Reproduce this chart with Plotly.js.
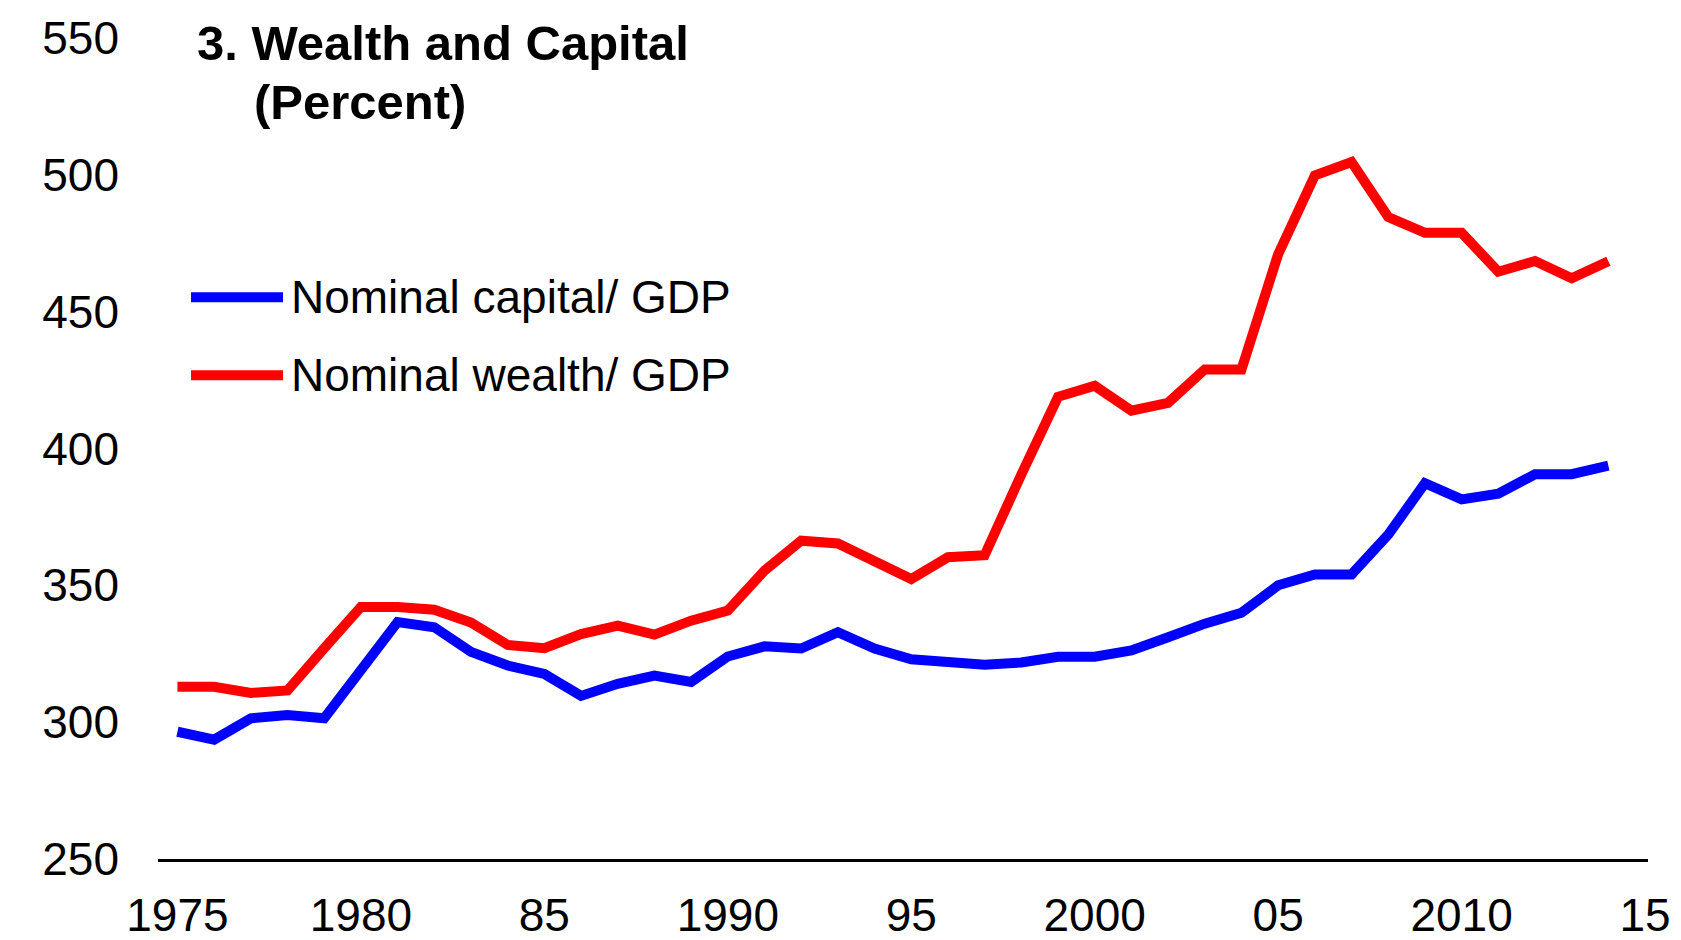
<!DOCTYPE html>
<html>
<head>
<meta charset="utf-8">
<script src="https://cdn.plot.ly/plotly-3.0.1.min.js"></script>
<style>
  html, body { margin: 0; padding: 0; background: #fff; }
  #chart { width: 1681px; height: 940px; }
</style>
</head>
<body>
<div id="chart"></div>
<script>
// ---- Data ----
var years = [1975, 1976, 1977, 1978, 1979, 1980, 1981, 1982, 1983, 1984,
             1985, 1986, 1987, 1988, 1989, 1990, 1991, 1992, 1993, 1994,
             1995, 1996, 1997, 1998, 1999, 2000, 2001, 2002, 2003, 2004,
             2005, 2006, 2007, 2008, 2009, 2010, 2011, 2012, 2013, 2014];

var capitalToGDP = [296.5, 293.6, 301.4, 302.6, 301.4, 319.0, 336.6, 334.7, 325.7, 320.7,
                    317.6, 309.6, 314.0, 317.0, 314.7, 324.0, 327.7, 326.9, 332.9, 326.9,
                    323.0, 322.0, 321.0, 321.8, 323.9, 323.9, 326.2, 331.0, 336.0, 340.0,
                    350.0, 354.0, 354.0, 368.5, 387.3, 381.4, 383.5, 390.6, 390.6, 393.7];

var wealthToGDP = [312.9, 312.9, 310.7, 311.6, 327.0, 342.1, 342.1, 341.1, 336.4, 328.2,
                   327.0, 332.2, 335.3, 332.0, 337.1, 340.8, 355.4, 366.3, 365.3, 359.0,
                   352.3, 360.3, 361.0, 390.5, 418.9, 422.9, 413.8, 416.7, 428.9, 428.9,
                   471.0, 499.8, 504.7, 484.6, 478.8, 478.8, 464.6, 468.5, 462.2, 468.4];

var seriesNames = ["Nominal capital/ GDP", "Nominal wealth/ GDP"];
var seriesColors = ["#0000FF", "#FF0000"];

var xTickVals = [1975, 1980, 1985, 1990, 1995, 2000, 2005, 2010, 2015];
var xTickText = ["1975", "1980", "85", "1990", "95", "2000", "05", "2010", "15"];
var yTickVals = [250, 300, 350, 400, 450, 500, 550];

var titleLine1 = "3. Wealth and Capital";
var titleLine2 = "(Percent)";

// ---- Chart ----
var FONT = '"Liberation Sans", Arial, sans-serif';

var traces = [
  { x: years, y: capitalToGDP, name: seriesNames[0], type: 'scatter', mode: 'lines',
    line: { color: seriesColors[0], width: 10 }, showlegend: false, hoverinfo: 'x+y' },
  { x: years, y: wealthToGDP, name: seriesNames[1], type: 'scatter', mode: 'lines',
    line: { color: seriesColors[1], width: 10 }, showlegend: false, hoverinfo: 'x+y' }
];

// legend drawn manually (long swatches, wide spacing as in the reference)
var H = 940, W = 1681;
var M = { l: 158, r: 33, t: 37.5, b: 81 };
var PW = W - M.l - M.r, PH = H - M.t - M.b;
function px(x) { return (x - M.l) / PW; }
function py(y) { return (H - M.b - y) / PH; }

var legendRows = [297, 375]; // pixel centre of each legend row
var shapes = [], annotations = [];
seriesNames.forEach(function (nm, i) {
  shapes.push({ type: 'line', xref: 'paper', yref: 'paper',
    x0: px(191), x1: px(283), y0: py(legendRows[i]), y1: py(legendRows[i]),
    line: { color: seriesColors[i], width: 10 } });
  annotations.push({ xref: 'paper', yref: 'paper', showarrow: false,
    x: px(289), xanchor: 'left', y: py(legendRows[i]), yanchor: 'middle',
    text: nm, font: { family: FONT, size: 46, color: '#000' } });
});

annotations.push({ xref: 'paper', yref: 'paper', showarrow: false,
  x: px(252), xanchor: 'left', y: py(102), yanchor: 'middle',
  text: '<b>' + titleLine2 + '</b>', font: { family: FONT, size: 49, color: '#000' } });

var layout = {
  width: W, height: H,
  paper_bgcolor: '#fff', plot_bgcolor: '#fff',
  margin: { l: M.l, r: M.r, t: M.t, b: M.b, pad: 0 },
  font: { family: FONT, size: 46, color: '#000' },
  title: { text: '<b>' + titleLine1 + '</b>', xref: 'container', yref: 'container',
           x: 197 / W, xanchor: 'left', y: 1 - 43 / H, yanchor: 'middle',
           font: { family: FONT, size: 49, color: '#000' } },
  showlegend: false,
  xaxis: {
    range: [1974.47, 2015.08], tickmode: 'array', tickvals: xTickVals, ticktext: xTickText,
    showgrid: false, zeroline: false, showline: true, linecolor: '#000', linewidth: 3,
    ticks: '', ticklabelstandoff: 14, tickfont: { family: FONT, size: 46, color: '#000' }
  },
  yaxis: {
    range: [250, 550], tickmode: 'array', tickvals: yTickVals,
    showgrid: false, zeroline: false, showline: false,
    ticks: '', ticklabelstandoff: 38, tickfont: { family: FONT, size: 46, color: '#000' }
  },
  shapes: shapes,
  annotations: annotations
};

Plotly.newPlot('chart', traces, layout, { displayModeBar: false, staticPlot: true });
</script>
</body>
</html>
